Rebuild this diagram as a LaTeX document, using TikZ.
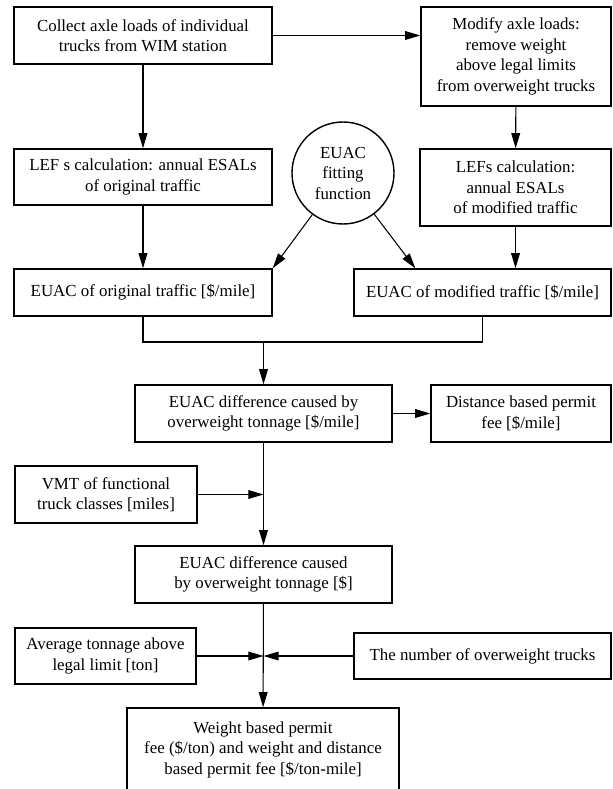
\documentclass[tikz,border=0pt]{standalone}
\usepackage{fontspec}
\setmainfont{Liberation Serif}
\usetikzlibrary{arrows.meta,positioning,shapes.geometric}
\tikzset{
  box/.style    = {draw,line width=1.2pt,align=center,inner sep=0pt,
                   font=\fontsize{14.4}{17.5}\selectfont},
  fitcirc/.style= {draw,circle,line width=1.2pt,align=center,inner sep=0pt,
                   minimum size=3.06cm,font=\fontsize{14.4}{17.5}\selectfont},
  arrow/.style  = {-{Triangle[length=13pt,width=7.5pt]},line width=0.9pt},
  link/.style   = {line width=0.9pt},
}

\begin{document}
\begin{tikzpicture}[x=0.03cm,y=-0.03cm]
  \useasboundingbox (0,0) rectangle (612,789);
  % top row
  \node[box,minimum width=7.74cm,minimum height=1.71cm] (collect) at (143,35.5)
    {Collect axle loads of individual\\trucks from WIM station};
  \node[box,minimum width=5.7cm,minimum height=2.97cm] (modify) at (516,56.5)
    {Modify axle loads:\\remove weight\\above legal limits\\from overweight trucks};
  % ESALs
  \node[box,minimum width=7.74cm,minimum height=1.68cm] (leforig) at (143,177)
    {LEF s calculation: annual ESALs\\of original traffic};
  \node[fitcirc] (fitfn) at (343,173) {EUAC\\fitting\\function};
  \node[box,minimum width=5.73cm,minimum height=2.31cm] (lefmod) at (515.5,187.5)
    {LEFs calculation:\\annual ESALs\\of modified traffic};
  % EUAC
  \node[box,minimum width=7.74cm,minimum height=1.41cm] (euacorig) at (143,292.5)
    {EUAC of original traffic [\$/mile]};
  \node[box,minimum width=7.71cm,minimum height=1.41cm] (euacmod) at (482.5,292.5)
    {EUAC of modified traffic [\$/mile]};
  \coordinate (merge) at (263.5,342);
  \node[box,minimum width=7.71cm,minimum height=1.71cm] (euacdiff) at (263.5,413.5)
    {EUAC difference caused by\\overweight tonnage [\$/mile]};
  \node[box,minimum width=5.4cm,minimum height=1.71cm] (distfee) at (521,413.5)
    {Distance based permit\\fee [\$/mile]};
  \node[box,minimum width=5.46cm,minimum height=1.71cm] (vmt) at (106,494.5)
    {VMT of functional\\truck classes [miles]};
  \node[box,minimum width=7.71cm,minimum height=1.71cm] (euacusd) at (263.5,574.5)
    {EUAC difference caused\\by overweight tonnage [\$]};
  % permit fee
  \node[box,minimum width=5.43cm,minimum height=1.68cm] (avgton) at (105.5,656)
    {Average tonnage above\\legal limit [ton]};
  \node[box,minimum width=7.71cm,minimum height=1.38cm] (numtrucks) at (482.5,656)
    {The number of overweight trucks};
  \coordinate (junc) at (263.5,656);
  \node[box,minimum width=8.16cm,minimum height=2.49cm] (wfee) at (263,749.5)
    {Weight based permit\\fee (\$/ton) and weight and distance\\based permit fee [\$/ton-mile]};

  \draw[arrow] (collect) -- (leforig);
  \draw[arrow] (collect.east) -- (collect.east -| modify.west);
  \draw[arrow] (modify) -- (lefmod);
  \draw[arrow] (leforig) -- (euacorig);
  \draw[arrow] (lefmod.south) -- (lefmod.south |- euacmod.north);
  \draw[arrow] (fitfn) -- (euacorig.north east);
  \draw[arrow] (fitfn) -- ([xshift=1.86cm]euacmod.north west);
  \draw[link] (euacorig.south) |- (merge) -| (euacmod.south);
  \draw[arrow] (merge) -- (euacdiff.north);
  \draw[arrow] (euacdiff.east) -- (euacdiff.east -| distfee.west);
  \draw[arrow] (euacdiff) -- (euacusd);
  \draw[arrow] (vmt.east) -- (vmt.east -| euacdiff.south);
  \draw[arrow] (euacusd) -- (wfee);
  \draw[arrow] (avgton.east) -- (junc);
  \draw[arrow] (numtrucks.west) -- (junc);
\end{tikzpicture}
\end{document}
